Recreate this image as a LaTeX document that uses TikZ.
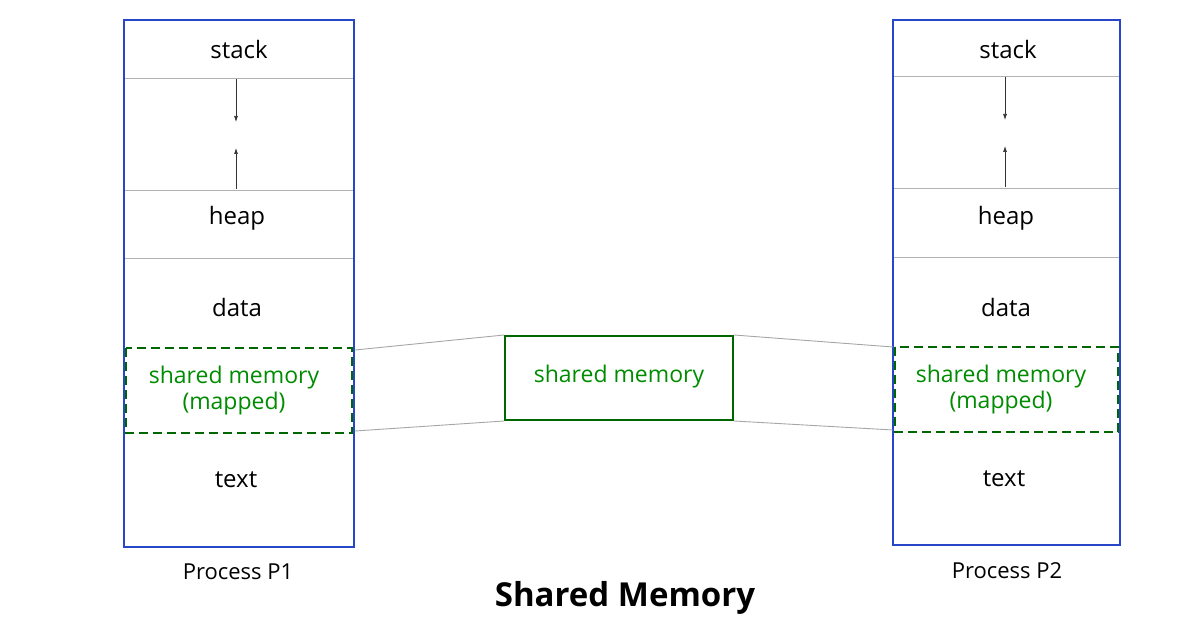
\documentclass[tikz,border=0pt]{standalone}
\usepackage{fontspec}
\setmainfont{Open Sans}
\usetikzlibrary{arrows.meta}
\definecolor{bbox}{RGB}{40,70,200}
\begin{document}
\begin{tikzpicture}[x=1pt,y=-1pt,
  box/.style={draw=bbox,line width=2.2pt},
  sep/.style={draw=gray!60,line width=0.8pt},
  shm/.style={draw=green!40!black,line width=2.2pt,dash pattern=on 9pt off 5pt},
  gt/.style={text=green!55!black,font=\fontsize{23}{26}\selectfont,align=center},
  lb/.style={font=\fontsize{24}{28}\selectfont},
  conn/.style={draw=gray!70,line width=0.9pt},
  arr/.style={-{Latex[length=6pt,width=4pt]},line width=0.7pt,draw=gray!40!black}]
\useasboundingbox (0,0) rectangle (1196,628);
% left
\draw[sep] (124,78) -- (354,78) (124,190) -- (354,190) (124,258) -- (354,258);
\draw[box] (124,20) rectangle (354,547);
\draw[shm,fill=white] (126,348) rectangle (352,433);
\node[lb] (s1) at (239,50) {stack};
\node[lb] (h1) at (237,218) {heap};
\node[lb] (d1) at (237,307) {data};
\node[gt] (m1) at (234,391) {shared memory\\(mapped)};
\node[lb] (t1) at (236,480) {text};
\node[lb,font=\fontsize{22}{26}\selectfont] (p1) at (238,572) {Process P1};
\coordinate (a1s) at (236,79); \coordinate (a1e) at (236,122);
\coordinate (b1s) at (236,189); \coordinate (b1e) at (236,148);
\draw[arr] (a1s) -- (a1e); \draw[arr] (b1s) -- (b1e);
% right
\draw[sep] (893,76) -- (1120,76) (893,188) -- (1120,188) (893,257) -- (1120,257);
\draw[box] (893,20) rectangle (1120,545);
\draw[shm,fill=white] (895,347) rectangle (1118,432);
\node[lb] (s2) at (1008,50) {stack};
\node[lb] (h2) at (1006,218) {heap};
\node[lb] (d2) at (1006,307) {data};
\node[gt] (m2) at (1001,390) {shared memory\\(mapped)};
\node[lb] (t2) at (1004,479) {text};
\node[lb,font=\fontsize{22}{26}\selectfont] (p2) at (1007,571) {Process P2};
\coordinate (a2s) at (1005,77); \coordinate (a2e) at (1005,120);
\coordinate (b2s) at (1005,187); \coordinate (b2e) at (1005,146);
\draw[arr] (a2s) -- (a2e); \draw[arr] (b2s) -- (b2e);
% center
\node[draw=green!40!black,line width=2pt,minimum width=228pt,minimum height=84pt,gt] (c) at (619,378) {};
\node[gt] (ct) at (619,377) {shared memory};
\coordinate (l1) at (355,350); \coordinate (l2) at (355,431);
\coordinate (r1) at (893,347); \coordinate (r2) at (893,430);
\draw[conn] (l1) -- (c.north west) (l2) -- (c.south west);
\draw[conn] (c.north east) -- (r1) (c.south east) -- (r2);
\node[font=\bfseries\fontsize{33}{38}\selectfont] (title) at (625,598) {Shared Memory};
\end{tikzpicture}
\end{document}
